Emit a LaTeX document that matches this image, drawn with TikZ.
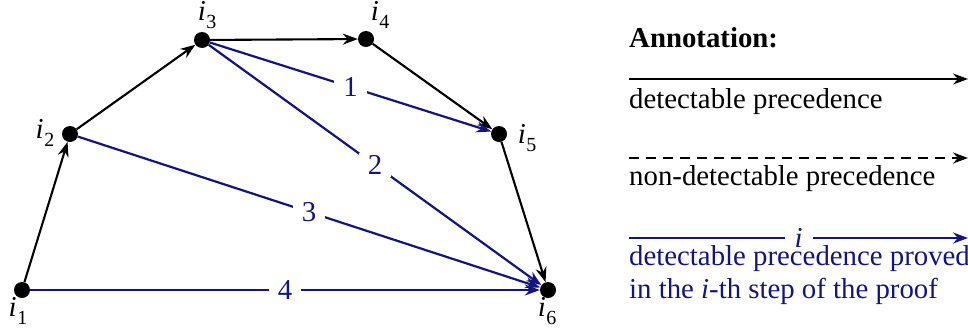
\documentclass[tikz,border=0pt]{standalone}
\usepackage{fontspec}
\setmainfont{Liberation Serif}
\usetikzlibrary{arrows.meta}
\definecolor{navy}{rgb}{0.08,0.08,0.5}
\newcommand{\ilab}[1]{\textit{i}\kern0.5pt\raisebox{-0.25em}{\fontsize{20}{22}\selectfont #1}}
\begin{document}
\begin{tikzpicture}[x=1pt,y=-1pt,
  font=\fontsize{28.8}{33}\selectfont,
  dot/.style={circle,fill=black,inner sep=0pt,minimum size=16pt},
  tipped/.style={-{Stealth[length=15pt,width=11pt,inset=5pt]}},
  blk/.style={tipped,draw=black,line width=2.1pt},
  blu/.style={tipped,draw=navy,line width=2.2pt},
  num/.style={fill=white,text=navy,inner xsep=9pt,inner ysep=2pt},
  lbl/.style={inner sep=0pt}
]
\useasboundingbox (0,0) rectangle (968,327);
% vertices
\node[dot] (n1) at (22,290) {};
\node[dot] (n2) at (70,134) {};
\node[dot] (n3) at (202,40) {};
\node[dot] (n4) at (366,39) {};
\node[dot] (n5) at (499,134) {};
\node[dot] (n6) at (548,290) {};
% vertex labels
\node[lbl] (l1) at (18,311) {\ilab{1}};
\node[lbl] (l2) at (45,133) {\ilab{2}};
\node[lbl] (l3) at (207,15) {\ilab{3}};
\node[lbl] (l4) at (380,15) {\ilab{4}};
\node[lbl] (l5) at (527,138) {\ilab{5}};
\node[lbl] (l6) at (547,311) {\ilab{6}};
% black edges
\draw[blk] (n1) -- (n2);
\draw[blk] (n2) -- (n3);
\draw[blk] (n3) -- (n4);
\draw[blk] (n4) -- (n5);
\draw[blk] (n5) -- (n6);
% blue edges
\draw[blu] (n3) -- node[num] (e1) {1} (n5);
\draw[blu] (n3) -- node[num] (e2) {2} (n6);
\draw[blu] (n2) -- node[num] (e3) {3} (n6);
\draw[blu] (n1) -- node[num] (e4) {4} (n6);
% legend
\node[anchor=base west,inner sep=0pt,font=\fontsize{28.8}{33}\selectfont\bfseries] (ann) at (629,47) {Annotation:};
\coordinate (a1) at (629,79);
\coordinate (b1) at (968,79);
\draw[blk] (a1) -- (b1);
\node[anchor=base west,inner sep=0pt] (t1) at (629,108) {detectable precedence};
\coordinate (a2) at (629,158);
\coordinate (b2) at (968,158);
\draw[blk,dash pattern=on 10pt off 7pt] (a2) -- (b2);
\node[anchor=base west,inner sep=0pt] (t2) at (629,185) {non-detectable precedence};
\coordinate (a3) at (629,238);
\coordinate (b3) at (968,238);
\draw[blu] (a3) -- node[num,inner xsep=10pt,inner ysep=0pt] (ei) {\textit{i}} (b3);
\node[anchor=base west,inner sep=0pt,text=navy] (t3) at (629,265) {detectable precedence proved};
\node[anchor=base west,inner sep=0pt,text=navy] (t4) at (629,298) {in the \textit{i}-th step of the proof};
\end{tikzpicture}
\end{document}
